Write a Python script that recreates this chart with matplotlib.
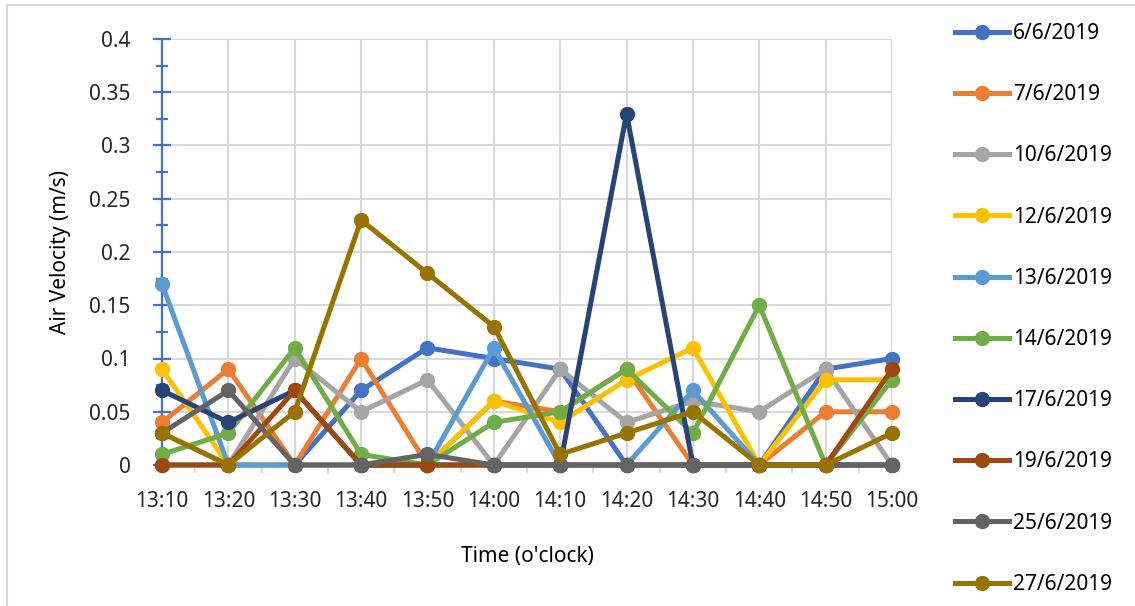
import matplotlib
matplotlib.use("Agg")
import matplotlib.pyplot as plt
from matplotlib.lines import Line2D
from matplotlib.ticker import MultipleLocator, FuncFormatter

plt.rcParams['font.family'] = ['Noto Sans', 'DejaVu Sans']

times = ["13:10", "13:20", "13:30", "13:40", "13:50", "14:00",
         "14:10", "14:20", "14:30", "14:40", "14:50", "15:00"]

d_06_06 = [0, 0, 0, 0.07, 0.11, 0.10, 0.09, 0, 0, 0, 0.09, 0.10]
d_07_06 = [0.04, 0.09, 0, 0.10, 0, 0.06, 0.05, 0.09, 0, 0, 0.05, 0.05]
d_10_06 = [0.03, 0, 0.10, 0.05, 0.08, 0, 0.09, 0.04, 0.06, 0.05, 0.09, 0]
d_12_06 = [0.09, 0, 0, 0, 0, 0.06, 0.04, 0.08, 0.11, 0, 0.08, 0.08]
d_13_06 = [0.17, 0, 0, 0, 0, 0.11, 0, 0, 0.07, 0, 0, 0]
d_14_06 = [0.01, 0.03, 0.11, 0.01, 0, 0.04, 0.05, 0.09, 0.03, 0.15, 0, 0.08]
d_17_06 = [0.07, 0.04, 0.07, 0, 0, 0, 0, 0.33, 0, 0, 0, 0]
d_19_06 = [0, 0, 0.07, 0, 0, 0, 0, 0, 0, 0, 0, 0.09]
d_25_06 = [0.03, 0.07, 0, 0, 0.01, 0, 0, 0, 0, 0, 0, 0]
d_27_06 = [0.03, 0, 0.05, 0.23, 0.18, 0.13, 0.01, 0.03, 0.05, 0, 0, 0.03]

labels = ["6/6/2019", "7/6/2019", "10/6/2019", "12/6/2019", "13/6/2019",
          "14/6/2019", "17/6/2019", "19/6/2019", "25/6/2019", "27/6/2019"]
series = [d_06_06, d_07_06, d_10_06, d_12_06, d_13_06,
          d_14_06, d_17_06, d_19_06, d_25_06, d_27_06]
colors = ["#4472C4", "#ED7D31", "#A5A5A5", "#FFC000", "#5B9BD5",
          "#70AD47", "#264478", "#9E480E", "#636363", "#997300"]

fig = plt.figure(figsize=(11.35, 6.06), dpi=100)
ax = fig.add_axes([162 / 1135, 1 - 465 / 606, (892 - 162) / 1135, (465 - 39) / 606])

x = list(range(len(times)))
for vals, lab, col in zip(series, labels, colors):
    ax.plot(x, vals, color=col, lw=3.6, marker="o", ms=10, label=lab,
            clip_on=False, zorder=3)

ax.set_xlim(0, len(times) - 1)
ax.set_ylim(0, 0.4)
ax.set_xticks(x)
ax.set_xticklabels(times)
ax.xaxis.set_minor_locator(MultipleLocator(0.5))
ax.yaxis.set_major_locator(MultipleLocator(0.05))
ax.yaxis.set_minor_locator(MultipleLocator(0.025))
ax.yaxis.set_major_formatter(FuncFormatter(lambda v, p: "%g" % round(v, 3)))

ax.grid(True, which="major", color="#D9D9D9", lw=1.5, zorder=0)
ax.set_axisbelow(True)
for s in ["top", "right"]:
    ax.spines[s].set_visible(False)
ax.spines["left"].set_color("#4472C4")
ax.spines["left"].set_linewidth(1.6)
ax.spines["bottom"].set_color("#D9D9D9")
ax.spines["bottom"].set_linewidth(1.5)

ax.tick_params(axis="y", which="major", direction="inout", length=13, width=1.6,
               color="#4472C4", pad=16, labelsize=15, labelcolor="#262626")
ax.tick_params(axis="y", which="minor", direction="inout", length=8.5, width=1.6,
               color="#4472C4")
ax.tick_params(axis="x", which="both", direction="out", length=6, width=1.5,
               color="#D9D9D9", pad=13, labelsize=15, labelcolor="#262626")

ax.set_xlabel("Time (o'clock)", fontsize=15, color="#000000", labelpad=24)
ax.set_ylabel("Air Velocity (m/s)", fontsize=15, color="#000000", labelpad=13)

fig.legend(loc="upper left", bbox_to_anchor=(955 / 1135, 1 - 23 / 606),
           frameon=False, fontsize=15, handlelength=2.6, handletextpad=0.2,
           labelspacing=1.93, borderpad=0, borderaxespad=0)

# thin chart-area border along the top and left edges
fig.add_artist(Line2D([7 / 1135, 1], [1 - 5 / 606, 1 - 5 / 606],
                      color="#D9D9D9", lw=1.5, transform=fig.transFigure))
fig.add_artist(Line2D([7 / 1135, 7 / 1135], [0, 1 - 5 / 606],
                      color="#D9D9D9", lw=1.5, transform=fig.transFigure))

fig.savefig("out.png", dpi=100)
